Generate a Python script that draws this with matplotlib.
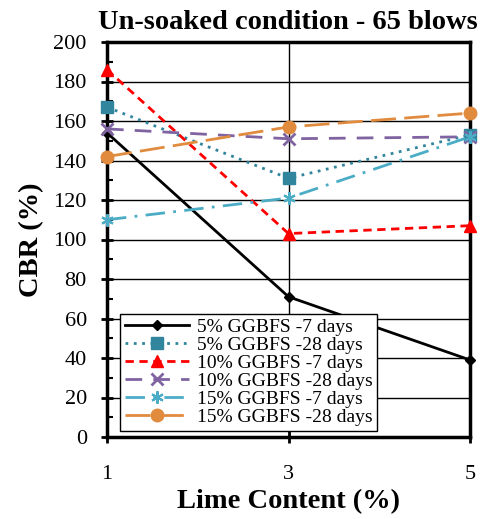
import matplotlib
matplotlib.use("Agg")
import matplotlib.pyplot as plt
from matplotlib.ticker import MultipleLocator

plt.rcParams['font.family'] = ['Liberation Serif', 'DejaVu Serif']

lime = [1, 3, 5]
s5_7 = [154, 71, 39]
s5_28 = [167, 131, 153]
s10_7 = [186, 103, 107]
s10_28 = [156, 151, 152]
s15_7 = [110, 121, 152]
s15_28 = [142, 157, 164]
labels = ["5% GGBFS -7 days", "5% GGBFS -28 days", "10% GGBFS -7 days",
          "10% GGBFS -28 days", "15% GGBFS -7 days", "15% GGBFS -28 days"]

fig = plt.figure(figsize=(4.86, 5.19), dpi=100)
ax = fig.add_axes([107/486, 82/519, 363/486, 395/519])

common = dict(lw=2, clip_on=False, zorder=5)
ax.plot(lime, s5_7, color='black', marker='D', ms=5, label=labels[0], **common)
ax.plot(lime, s5_28, color='#31859C', ls=(0, (1, 2)), marker='s', ms=9, label=labels[1], **common)
ax.plot(lime, s10_7, color='#FF0000', ls=(0, (3, 2)), marker='^', ms=9, label=labels[2], **common)
ax.plot(lime, s10_28, color='#8064A2', ls=(0, (6, 4)), marker='x', ms=8, mew=2, label=labels[3], **common)
ax.plot(lime, s15_7, color='#4BACC6', ls=(0, (7, 3, 1, 3)), marker=(6, 2, 0), ms=9, mew=1.5, label=labels[4], **common)
ax.plot(lime, s15_28, color='#E08B3E', ls=(0, (9, 3)), marker='o', ms=9, label=labels[5], **common)

ax.set_xlim(1, 5)
ax.set_ylim(0, 200)
ax.set_xticks([1, 3, 5])
ax.yaxis.set_major_locator(MultipleLocator(20))
ax.yaxis.set_minor_locator(MultipleLocator(10))
ax.grid(True, which='major', color='black', lw=1)
ax.tick_params(axis='both', which='major', direction='inout', length=9, width=2, labelsize=16)
ax.tick_params(axis='y', which='minor', direction='in', length=4, width=1.5)
ax.tick_params(axis='x', pad=16)
ax.tick_params(axis='y', pad=10)
for sp in ax.spines.values():
    sp.set_linewidth(2.5)

ax.set_xlabel('Lime Content (%)', fontsize=20.5, fontweight='bold', labelpad=3)
ax.set_ylabel('CBR (%)', fontsize=20.5, fontweight='bold', labelpad=7)
fig.text(0.592, 0.957, 'Un-soaked condition - 65 blows', fontsize=20.5, fontweight='bold',
         ha='center', va='center')

leg = ax.legend(loc='lower left', bbox_to_anchor=(0.035, 0.015), fontsize=14, frameon=True,
                fancybox=False, edgecolor='black', framealpha=1, handlelength=3.3,
                handletextpad=0.4, labelspacing=0.02, borderpad=0.25, borderaxespad=0)
leg.get_frame().set_linewidth(1)

fig.savefig('out.png', dpi=100)
